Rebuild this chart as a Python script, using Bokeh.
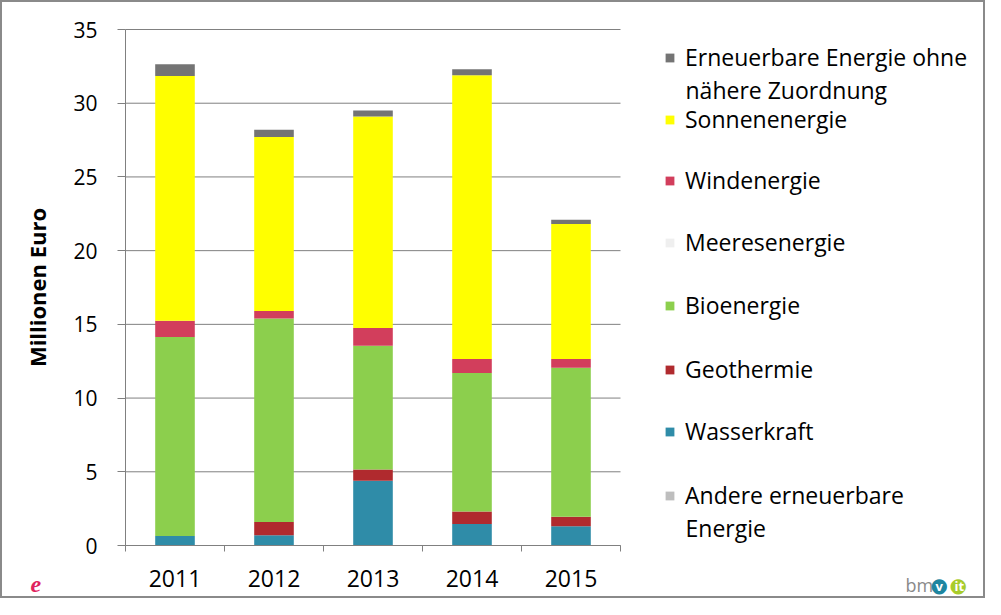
from bokeh.plotting import figure
from bokeh.models import (Range1d, FixedTicker, Legend, LegendItem, Label,
                          ColumnDataSource)
from bokeh.embed import file_html
from bokeh.resources import INLINE

# ---- data (Millionen Euro) ----
years = ["2011", "2012", "2013", "2014", "2015"]
andere = [0.0, 0.0, 0.0, 0.0, 0.0]          # Andere erneuerbare Energie
wasser = [0.65, 0.7, 4.4, 1.45, 1.3]        # Wasserkraft
geo = [0.0, 0.9, 0.75, 0.85, 0.65]          # Geothermie
bio = [13.5, 13.8, 8.4, 9.4, 10.1]          # Bioenergie
meer = [0.0, 0.0, 0.0, 0.0, 0.0]            # Meeresenergie
wind = [1.1, 0.5, 1.2, 0.95, 0.6]           # Windenergie
sonne = [16.6, 11.8, 14.35, 19.25, 9.15]    # Sonnenenergie
ohne = [0.8, 0.5, 0.4, 0.4, 0.3]            # Erneuerbare Energie ohne nähere Zuordnung

series = ["andere", "wasser", "geo", "bio", "meer", "wind", "sonne", "ohne"]
labels = ["Andere erneuerbare", "Wasserkraft", "Geothermie", "Bioenergie",
          "Meeresenergie", "Windenergie", "Sonnenenergie",
          "Erneuerbare Energie ohne"]
colors = ["#BEBEBE", "#2F8CA8", "#B02A2E", "#8CCF4D", "#EFEFEF",
          "#D23E5C", "#FFFF00", "#747474"]
y_ticks = [0, 5, 10, 15, 20, 25, 30, 35]
y_max = 35

FONT = "Open Sans"
TXT = "#000000"
GRID = "#808080"

# ---- canvas geometry (pixels) ----
W, H = 985, 598
AX_LEFT, AX_RIGHT = 123, 618      # x pixel of category 0 edge and last edge
AX_TOP, AX_BOTTOM = 27, 543       # y pixel of y_max and of 0
ncat = len(years)
px_x = (AX_RIGHT - AX_LEFT) / ncat
px_y = (AX_BOTTOM - AX_TOP) / y_max
x_range = Range1d(-AX_LEFT / px_x, ncat + (W - AX_RIGHT) / px_x)
y_range = Range1d(-(H - AX_BOTTOM) / px_y, y_max + AX_TOP / px_y)

xpos = [i + 0.5 for i in range(ncat)]
source = ColumnDataSource(data=dict(x=xpos, andere=andere, wasser=wasser, geo=geo,
                                    bio=bio, meer=meer, wind=wind, sonne=sonne,
                                    ohne=ohne))

p = figure(width=W, height=H, x_range=x_range, y_range=y_range,
           output_backend="svg", toolbar_location=None,
           min_border_left=0, min_border_right=0, min_border_top=0,
           min_border_bottom=0, styles={"border": "2px solid #8a8a8a"})
p.outline_line_color = None
p.background_fill_color = "white"
p.border_fill_color = "white"
p.xgrid.visible = False
p.ygrid.visible = False

# horizontal gridlines limited to the plot area
p.segment(x0=[0] * len(y_ticks), x1=[ncat] * len(y_ticks), y0=y_ticks, y1=y_ticks,
          line_color=GRID, line_width=1)

renderers = p.vbar_stack(series, x="x", width=0.4, source=source,
                         color=colors, line_color=colors, line_width=0)

# axes (fixed at the data origin)
yax = p.yaxis[0]
yax.fixed_location = 0
yax.bounds = (0, y_max)
yax.ticker = FixedTicker(ticks=y_ticks)
yax.axis_line_color = GRID
yax.major_tick_line_color = GRID
yax.major_tick_out = 8
yax.major_tick_in = 0
yax.minor_tick_line_color = None
yax.major_label_text_font = FONT
yax.major_label_text_font_size = "21px"
yax.major_label_text_color = TXT
yax.major_label_standoff = 20
yax.axis_label = "Millionen Euro"
yax.axis_label_text_font = FONT
yax.axis_label_text_font_style = "bold"
yax.axis_label_text_font_size = "22px"
yax.axis_label_text_color = TXT
yax.axis_label_standoff = 18

xax = p.xaxis[0]
xax.fixed_location = 0
xax.bounds = (0, ncat)
xax.ticker = FixedTicker(ticks=xpos, minor_ticks=list(range(ncat + 1)))
xax.major_label_overrides = {x: y for x, y in zip(xpos, years)}
xax.axis_line_color = GRID
xax.major_tick_line_color = None
xax.major_tick_out = 0
xax.major_tick_in = 0
xax.minor_tick_line_color = GRID
xax.minor_tick_out = 6
xax.minor_tick_in = 0
xax.major_label_text_font = FONT
xax.major_label_text_font_size = "23px"
xax.major_label_text_color = TXT
xax.major_label_standoff = 18

# legend: one Legend per entry to reproduce the uneven spacing
centers = {"ohne": 55, "sonne": 117, "wind": 178, "meer": 240, "bio": 303,
           "geo": 367, "wasser": 429, "andere": 493}
LH = 34
for name, lab, r in zip(series, labels, renderers):
    c = centers[name]
    leg = Legend(items=[LegendItem(label=lab, renderers=[r])],
                 location=(662, H - (c + LH / 2)),
                 glyph_width=11, glyph_height=11, label_standoff=10,
                 label_height=LH, padding=0, margin=0, spacing=0,
                 border_line_color=None, background_fill_alpha=0,
                 label_text_font=FONT, label_text_font_size="23px",
                 label_text_color=TXT)
    p.add_layout(leg, "center")

for txt, cy in [("nähere Zuordnung", 87), ("Energie", 525)]:
    p.add_layout(Label(x=683, y=H - cy, x_units="screen", y_units="screen",
                       text=txt, text_baseline="middle", text_font=FONT,
                       text_font_size="23px", text_color=TXT))

# logos
p.add_layout(Label(x=28, y=H - 582, x_units="screen", y_units="screen",
                   text="e", text_baseline="middle", text_font="Liberation Serif",
                   text_font_style="bold italic", text_font_size="24px",
                   text_color="#E0245E"))
p.add_layout(Label(x=903, y=H - 582, x_units="screen", y_units="screen",
                   text="bm", text_baseline="middle", text_font=FONT,
                   text_font_size="18px", text_color="#8a8a8a"))
p.add_layout(Label(x=928, y=H - 582, x_units="screen", y_units="screen",
                   text="●", text_baseline="middle", text_font="DejaVu Sans",
                   text_font_size="20px", text_color="#1E86A0"))
p.add_layout(Label(x=947, y=H - 582, x_units="screen", y_units="screen",
                   text="●", text_baseline="middle", text_font="DejaVu Sans",
                   text_font_size="20px", text_color="#A8CC2A"))
p.add_layout(Label(x=933, y=H - 583, x_units="screen", y_units="screen",
                   text="v", text_baseline="middle", text_font=FONT,
                   text_font_style="bold", text_font_size="13px", text_color="white"))
p.add_layout(Label(x=952, y=H - 583, x_units="screen", y_units="screen",
                   text="it", text_baseline="middle", text_font=FONT,
                   text_font_style="bold", text_font_size="13px", text_color="white"))

open("out.html", "w").write(file_html(p, INLINE))
